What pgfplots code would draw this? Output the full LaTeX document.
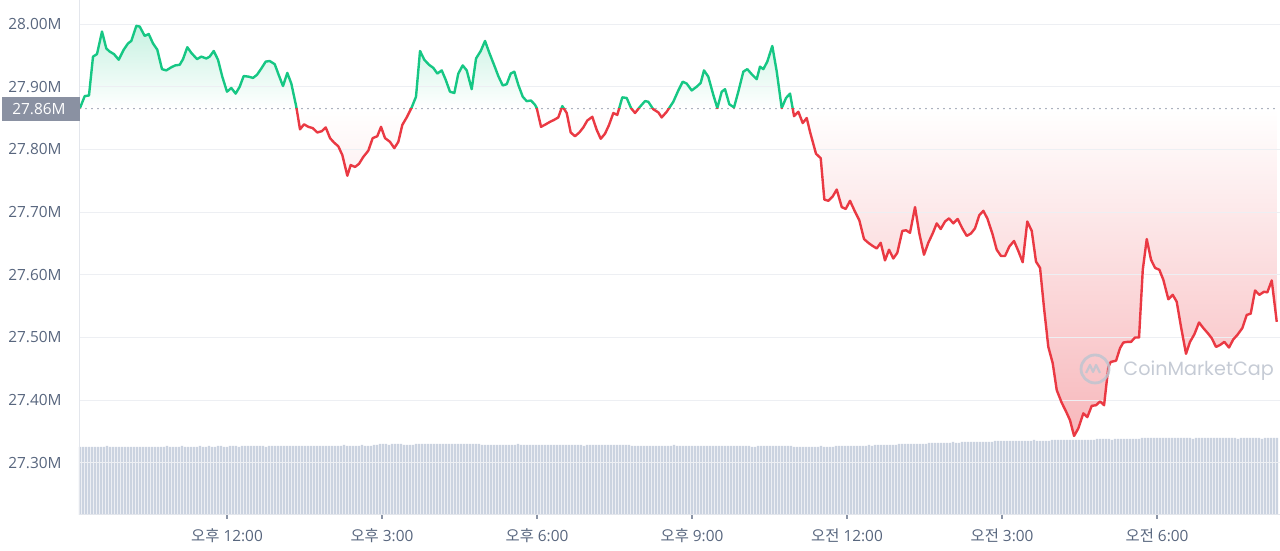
\documentclass[border=0pt]{standalone}
\usepackage{pgfplots}
\pgfplotsset{compat=1.18}
\usepackage{pgfplotstable}
\usepgfplotslibrary{fillbetween}
\usepackage{fontspec}
\setmainfont{Open Sans}
\newfontfamily\kr{Noto Sans CJK KR}
\newfontfamily\wm{Poppins}
\definecolor{cmcgreen}{HTML}{16C784}
\definecolor{cmcred}{HTML}{EA3943}
\definecolor{barcol}{HTML}{CBD3E0}
\definecolor{gridcol}{HTML}{EDEFF3}
\definecolor{labcol}{HTML}{58667E}
\definecolor{boxcol}{HTML}{8A91A2}
\definecolor{dotcol}{HTML}{808A9D}
\definecolor{wmcol}{HTML}{BFC5D0}
\definecolor{axcol}{HTML}{E3E6EC}
\definecolor{tickcol}{HTML}{8A93A5}
\colorlet{gtop}{cmcgreen!24!white}
\colorlet{rbot}{cmcred!36!white}
% the area path spans 27.343 (25bp) .. 27.997 (75bp); opening price 27.865 sits at 64.9bp
\pgfdeclareverticalshading{grshade}{100bp}{color(0bp)=(rbot); color(25bp)=(rbot); color(64.9bp)=(white); color(75bp)=(gtop); color(100bp)=(gtop)}

\pgfplotstableread{
h p
9.155 27.866
9.246 27.885
9.329 27.886
9.407 27.948
9.484 27.952
9.581 27.988
9.664 27.961
9.730 27.956
9.813 27.952
9.904 27.943
10.001 27.959
10.084 27.969
10.148 27.973
10.245 27.997
10.310 27.996
10.407 27.981
10.485 27.984
10.568 27.969
10.651 27.959
10.742 27.928
10.825 27.926
10.922 27.931
11.000 27.934
11.085 27.935
11.149 27.944
11.232 27.963
11.309 27.954
11.420 27.944
11.503 27.948
11.600 27.945
11.665 27.948
11.743 27.957
11.826 27.943
11.909 27.916
12.000 27.892
12.083 27.898
12.168 27.889
12.246 27.900
12.323 27.917
12.420 27.916
12.503 27.914
12.581 27.919
12.664 27.929
12.749 27.940
12.826 27.941
12.923 27.936
13.000 27.919
13.084 27.901
13.167 27.922
13.245 27.905
13.341 27.868
13.413 27.832
13.491 27.840
13.574 27.836
13.659 27.834
13.748 27.827
13.833 27.829
13.911 27.835
13.994 27.818
14.071 27.811
14.154 27.805
14.232 27.791
14.329 27.758
14.394 27.775
14.478 27.772
14.555 27.777
14.638 27.788
14.735 27.798
14.820 27.818
14.909 27.821
14.981 27.836
15.058 27.818
15.155 27.812
15.238 27.802
15.316 27.812
15.393 27.839
15.478 27.851
15.575 27.867
15.658 27.884
15.736 27.957
15.819 27.943
15.910 27.935
15.993 27.930
16.071 27.921
16.156 27.926
16.233 27.911
16.316 27.892
16.400 27.890
16.477 27.921
16.562 27.934
16.640 27.926
16.736 27.896
16.820 27.945
16.911 27.957
16.994 27.973
17.077 27.954
17.168 27.935
17.251 27.917
17.336 27.902
17.414 27.904
17.491 27.921
17.561 27.924
17.638 27.903
17.724 27.884
17.801 27.877
17.884 27.878
17.962 27.871
17.994 27.866
18.078 27.836
18.169 27.840
18.252 27.844
18.329 27.847
18.412 27.851
18.490 27.869
18.575 27.858
18.652 27.827
18.735 27.821
18.819 27.827
18.896 27.835
18.973 27.846
19.070 27.852
19.156 27.831
19.233 27.817
19.316 27.825
19.394 27.839
19.477 27.858
19.554 27.855
19.651 27.883
19.736 27.882
19.819 27.866
19.897 27.858
19.993 27.868
20.090 27.877
20.154 27.876
20.251 27.864
20.348 27.859
20.413 27.851
20.510 27.860
20.638 27.876
20.735 27.894
20.820 27.908
20.897 27.905
20.994 27.894
21.091 27.900
21.168 27.906
21.232 27.926
21.315 27.916
21.412 27.887
21.490 27.866
21.575 27.892
21.639 27.896
21.722 27.872
21.813 27.867
21.896 27.892
21.993 27.924
22.070 27.928
22.155 27.920
22.252 27.912
22.316 27.932
22.380 27.928
22.457 27.940
22.554 27.965
22.640 27.924
22.736 27.866
22.820 27.882
22.897 27.889
22.975 27.853
23.058 27.860
23.143 27.842
23.220 27.850
23.284 27.828
23.400 27.793
23.491 27.786
23.561 27.720
23.638 27.718
23.723 27.725
23.801 27.736
23.898 27.708
23.975 27.705
24.058 27.718
24.141 27.703
24.238 27.687
24.329 27.657
24.412 27.651
24.497 27.646
24.575 27.642
24.652 27.651
24.735 27.623
24.813 27.640
24.896 27.626
24.973 27.635
25.070 27.670
25.142 27.671
25.219 27.667
25.316 27.708
25.399 27.666
25.490 27.632
25.573 27.651
25.658 27.666
25.736 27.682
25.813 27.673
25.897 27.685
25.974 27.690
26.057 27.682
26.142 27.689
26.231 27.674
26.317 27.662
26.400 27.666
26.477 27.674
26.560 27.695
26.638 27.702
26.715 27.690
26.812 27.666
26.897 27.640
26.980 27.630
27.058 27.630
27.141 27.645
27.232 27.654
27.315 27.638
27.400 27.620
27.489 27.685
27.575 27.670
27.658 27.621
27.736 27.611
27.813 27.547
27.896 27.485
27.981 27.459
28.059 27.416
28.155 27.396
28.239 27.382
28.316 27.368
28.394 27.343
28.477 27.355
28.574 27.379
28.651 27.373
28.736 27.391
28.820 27.392
28.897 27.398
28.975 27.392
29.058 27.453
29.104 27.461
29.207 27.463
29.284 27.483
29.348 27.492
29.426 27.493
29.497 27.493
29.574 27.500
29.652 27.500
29.724 27.608
29.801 27.657
29.884 27.624
29.962 27.611
30.045 27.608
30.122 27.592
30.219 27.561
30.304 27.568
30.381 27.557
30.464 27.517
30.561 27.474
30.638 27.493
30.722 27.505
30.813 27.524
30.896 27.515
30.981 27.507
31.058 27.499
31.141 27.485
31.219 27.488
31.302 27.493
31.393 27.484
31.476 27.497
31.554 27.504
31.651 27.515
31.736 27.536
31.813 27.538
31.897 27.575
31.980 27.568
32.071 27.573
32.135 27.572
32.220 27.591
32.317 27.525
}\pricedata

\pgfplotstableread[row sep=\\]{
v\\
68\\68\\68\\68\\68\\68\\68\\68\\68\\69\\68\\68\\68\\68\\68\\68\\68\\68\\68\\68\\
68\\68\\68\\68\\68\\68\\68\\68\\68\\69\\68\\68\\68\\68\\69\\68\\68\\68\\68\\68\\
69\\68\\68\\69\\68\\68\\69\\69\\68\\68\\69\\69\\69\\68\\69\\69\\69\\69\\69\\69\\
69\\69\\68\\69\\69\\69\\69\\69\\69\\69\\69\\69\\69\\69\\69\\69\\69\\69\\69\\69\\
69\\69\\69\\69\\69\\69\\69\\69\\70\\69\\69\\69\\69\\69\\70\\69\\69\\69\\70\\70\\
71\\71\\71\\70\\71\\71\\71\\71\\70\\70\\70\\70\\71\\71\\71\\71\\71\\71\\71\\71\\
71\\71\\71\\71\\71\\71\\71\\71\\71\\71\\71\\71\\71\\71\\70\\70\\70\\70\\70\\70\\
70\\70\\70\\70\\70\\70\\71\\70\\70\\70\\70\\70\\70\\70\\70\\70\\70\\70\\70\\70\\
70\\70\\70\\70\\70\\70\\70\\70\\69\\70\\70\\70\\70\\70\\70\\70\\70\\70\\70\\70\\
70\\70\\70\\70\\69\\69\\69\\69\\69\\69\\69\\69\\69\\69\\69\\69\\69\\69\\70\\69\\
69\\69\\69\\69\\69\\69\\69\\69\\69\\69\\69\\69\\69\\69\\69\\69\\69\\69\\69\\69\\
69\\69\\69\\69\\68\\68\\69\\69\\69\\69\\69\\69\\69\\69\\69\\69\\69\\69\\68\\68\\
68\\68\\68\\68\\68\\68\\68\\69\\68\\68\\68\\68\\69\\69\\69\\69\\69\\69\\69\\69\\
69\\69\\69\\70\\69\\70\\70\\70\\70\\70\\70\\70\\70\\71\\71\\71\\71\\71\\71\\71\\
71\\71\\71\\72\\72\\72\\72\\72\\72\\72\\72\\73\\72\\72\\73\\73\\73\\73\\73\\73\\
73\\73\\73\\73\\73\\74\\74\\74\\74\\74\\74\\74\\74\\74\\74\\74\\74\\74\\75\\74\\
74\\74\\74\\74\\75\\75\\75\\75\\75\\75\\75\\75\\75\\75\\75\\75\\75\\75\\75\\76\\
76\\76\\76\\76\\75\\76\\76\\76\\76\\76\\76\\76\\76\\76\\77\\77\\77\\77\\77\\77\\
77\\77\\77\\77\\77\\77\\77\\77\\77\\77\\77\\76\\77\\77\\77\\77\\77\\77\\77\\77\\
77\\77\\77\\77\\77\\77\\76\\77\\77\\77\\77\\77\\77\\77\\76\\77\\77\\77\\77\\77\\
}\voldata

\pgfplotsset{
  samebox/.style={at={(0,0)}, anchor=origin, scale only axis, width=600pt, height=257.5pt, enlargelimits=false},
  priceaxis/.style={samebox, xmin=9.155, xmax=32.38, ymin=27.2169, ymax=28.0383},
}

\begin{document}
\fontsize{7.7pt}{9pt}\selectfont
\begin{tikzpicture}
% volume bars
\begin{axis}[samebox, hide axis, xmin=-0.5, xmax=399.5, ymin=0, ymax=515]
\addplot[ybar, bar width=0.68, fill=barcol, draw=none]
  table[x expr=\coordindex, y=v]{\voldata};
\end{axis}
% shaded area between the price and the opening price: green above, red below
\begin{axis}[priceaxis, hide axis]
\addplot[name path=price, draw=none] table[x=h, y=p]{\pricedata};
\addplot[name path=base, draw=none] coordinates {(9.155,27.865) (32.317,27.865)};
\addplot[shade, shading=grshade, draw=none] fill between[of=price and base];
\end{axis}
% main axis: grid, baseline, price line
\begin{axis}[
  priceaxis,
  axis x line*=bottom, axis y line*=left,
  axis line style={draw=axcol, line width=0.5pt},
  ytick={27.3,27.4,27.5,27.6,27.7,27.8,27.9,28.0},
  yticklabels={27.30M,27.40M,27.50M,27.60M,27.70M,27.80M,27.90M,28.00M},
  ymajorgrids, grid style={draw=gridcol, line width=0.5pt},
  ytick style={draw=none},
  yticklabel style={inner sep=0pt, xshift=-7pt, text=labcol, font=\fontsize{7.7pt}{9pt}\selectfont},
  xtick={12,15,18,21,24,27,30},
  xticklabels={{\kr 오후} 12:00,{\kr 오후} 3:00,{\kr 오후} 6:00,{\kr 오후} 9:00,{\kr 오전} 12:00,{\kr 오전} 3:00,{\kr 오전} 6:00},
  xtick style={draw=tickcol, line width=0.6pt},
  tick align=outside, major tick length=2pt,
  xticklabel style={inner sep=0pt, anchor=north, yshift=-4.5pt, text=labcol, font=\fontsize{7.7pt}{9pt}\selectfont},
]
\addplot[draw=white, line width=1.2pt] coordinates {(9.155,27.865) (32.38,27.865)};
\addplot[draw=dotcol, line width=0.8pt, line cap=round, dash pattern=on 0pt off 3pt]
  coordinates {(9.155,27.865) (32.38,27.865)};
\begin{scope}
\clip (9,27.865) rectangle (33,28.1);
\addplot[cmcgreen, line width=1.2pt, line join=round] table[x=h, y=p]{\pricedata};
\end{scope}
\begin{scope}
\clip (9,27.0) rectangle (33,27.865);
\addplot[cmcred, line width=1.2pt, line join=round] table[x=h, y=p]{\pricedata};
\end{scope}
\node[circle, draw=wmcol, line width=1.4pt, minimum size=14pt, inner sep=0pt, opacity=0.85] (logo) at (axis cs:28.80,27.4498) {};
\draw[wmcol, line width=1.1pt, opacity=0.85, line join=round] ([xshift=-4.5pt,yshift=-2pt]logo.center) -- ++(2pt,4pt) -- ++(1.5pt,-3.5pt) -- ++(1.5pt,3.5pt) -- ++(2pt,-4pt);
\node[anchor=west, inner sep=0pt, text=wmcol, opacity=0.9, font=\wm\fontsize{9.6pt}{11pt}\selectfont] at (axis cs:29.342,27.4466) {CoinMarketCap};
\coordinate (basept) at (axis cs:9.155,27.865);
\end{axis}
\node[fill=boxcol, minimum width=39pt, minimum height=12pt, inner sep=0pt, anchor=east] at (basept) {};
\node[anchor=east, inner sep=0pt, text=white] at ([xshift=-7pt]basept) {27.86M};
\pgfresetboundingbox
\path[use as bounding box] (-40pt,-18pt) rectangle (600pt,257.5pt);
\end{tikzpicture}
\end{document}
